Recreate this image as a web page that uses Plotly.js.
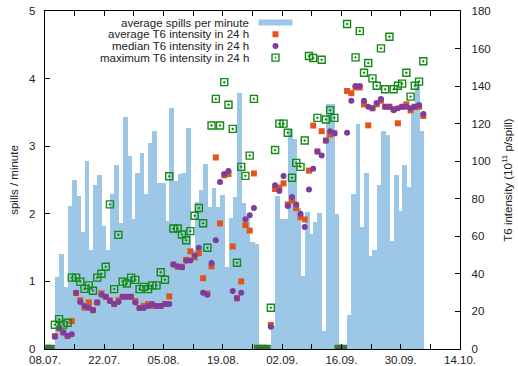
<!DOCTYPE html>
<html><head><meta charset="utf-8">
<script src="https://cdn.plot.ly/plotly-3.0.1.min.js"></script>
<style>html,body{margin:0;padding:0;background:#fff}#chart{width:518px;height:366px}</style>
</head><body><div id="chart"></div>
<script>
// day index k = -2 .. 87 ; first entry is 08.07. (zero-valued days before beam)
const firstSample = "2017-07-08 08:00";
const spillsPerMinute = [0,0,
 1.07,1.40,0.91,2.11,2.50,2.26,1.73,2.78,1.47,2.42,
 2.57,1.82,1.47,2.29,2.72,1.86,3.43,2.86,1.93,2.61,
 2.90,2.30,3.05,3.22,2.45,2.45,1.90,3.57,2.48,2.59,
 2.61,3.27,1.46,2.17,2.35,2.73,2.10,2.38,2.10,2.28,
 1.22,1.94,2.25,3.79,2.16,1.94,1.59,1.56,0,0,
 0,0.34,2.26,1.92,1.92,3.25,3.10,2.08,1.08,2.03,
 1.70,1.88,2.01,0.27,3.63,3.63,2.00,0,0,0.50,
 2.29,3.33,1.80,2.60,1.37,1.46,2.42,3.22,3.16,1.60,
 2.57,2.04,2.72,2.39,3.63,3.92,3.22,0];
const avgT6 = [0,0,
 6.9,11.0,8.7,6.9,14.8,29.8,26.0,22.0,24.8,20.7,
 24.8,29.7,27.8,25.9,23.9,26.0,27.8,27.8,27.8,25.5,
 21.9,22.9,23.9,22.9,22.9,22.9,23.9,28.0,45.0,43.8,
 43.8,47.5,52.0,48.8,51.0,37.7,29.5,44.0,102.0,66.9,
 92.5,93.2,54.6,27.0,36.0,66.0,63.1,93.5,0,0,
 0,12.8,85.2,86.0,88.2,77.0,79.1,75.0,70.2,69.0,
 95.0,119.0,105.2,116.0,111.0,114.2,114.9,0,0,137.4,
 136.2,139.3,139.3,130.3,119.1,128.2,130.3,132.2,129.0,129.0,
 127.8,120.2,129.0,130.3,127.1,129.0,129.0,124.1];
const medianT6 = [0,0,
 6.5,11.0,8.9,6.9,7.9,30.0,25.0,22.9,22.0,20.7,
 24.8,28.9,27.8,25.5,24.0,25.0,27.8,27.8,27.8,24.8,
 21.9,21.9,22.9,23.9,22.9,22.9,23.9,23.9,45.0,43.9,
 43.5,47.0,47.1,49.8,53.9,30.0,28.9,45.8,57.9,88.9,
 93.2,94.8,30.9,27.0,29.9,69.1,71.2,75.1,0,0,
 0,11.9,87.2,84.1,92.1,76.1,81.0,77.0,72.0,65.0,
 85.0,96.0,105.2,103.0,111.0,116.0,114.9,0,0,115.2,
 132.2,140.0,140.0,132.2,129.0,128.2,131.0,133.1,129.0,129.0,
 127.1,128.2,129.0,129.0,128.2,129.0,129.9,125.1];
const maxT6 = [0,0,
 12.9,15.9,13.0,14.0,38.0,38.0,35.9,32.0,33.9,31.0,
 38.0,40.1,43.8,77.0,31.9,60.8,35.9,34.9,38.0,36.8,
 31.9,33.1,31.9,33.9,33.9,40.9,36.9,92.0,64.2,64.2,
 61.0,57.9,62.8,71.0,75.1,67.0,53.9,119.0,133.2,119.0,
 142.1,130.1,117.2,45.9,97.0,92.2,103.0,133.2,0,0,
 0,22.0,106.0,120.0,120.0,115.2,91.2,99.1,97.0,111.0,
 156.0,155.0,123.1,154.0,122.2,127.2,123.1,0,0,173.1,
 190.0,155.3,169.3,147.1,152.3,144.1,140.2,160.1,138.3,166.3,
 138.3,140.2,141.3,147.1,134.4,140.2,142.4,153.2];
const labelDates = ["2017-07-08","2017-07-22","2017-08-05","2017-08-19","2017-09-02","2017-09-16","2017-09-30","2017-10-14"];
const tickLabels = ["08.07.","22.07.","05.08.","19.08.","02.09.","16.09.","30.09.","14.10."];
const legendNames = ["average spills per minute","average T6 intensity in 24 h","median T6 intensity in 24 h","maximum T6 intensity in 24 h"];

const DAY = 86400000;
function pad(n){return (n<10?"0":"")+n;}
function fmt(ms){const d=new Date(ms);return d.getUTCFullYear()+"-"+pad(d.getUTCMonth()+1)+"-"+pad(d.getUTCDate())+" "+pad(d.getUTCHours())+":"+pad(d.getUTCMinutes());}
const t0 = Date.parse(firstSample.replace(" ","T")+":00Z");
const xs = spillsPerMinute.map((_,i)=>fmt(t0+i*DAY));

const C_BAR="#9dc7e7", C_AVG="#e0551c", C_MED="#7d3c9e", C_MAX="#138a13";
const traces = [
 {type:"bar", x:xs, y:spillsPerMinute, width:spillsPerMinute.map(()=>DAY*1.15), offset:0,
  marker:{color:C_BAR,line:{width:0}}, yaxis:"y", name:legendNames[0], hoverinfo:"skip"},
 {type:"scatter", mode:"markers", x:xs, y:avgT6, yaxis:"y2", name:legendNames[1],
  marker:{symbol:"square", size:6, color:C_AVG}},
 {type:"scatter", mode:"markers", x:xs, y:medianT6, yaxis:"y2", name:legendNames[2],
  marker:{symbol:"circle", size:6, color:C_MED}},
 {type:"scatter", mode:"markers", x:xs, y:maxT6, yaxis:"y2", name:legendNames[3],
  marker:{symbol:"square-open-dot", size:7, color:C_MAX, line:{width:1.4, color:C_MAX}}}
];

const F = {family:"Liberation Sans, Arial, sans-serif", size:11.5, color:"#222"};
const legY = [0.9657, 0.9312, 0.8967, 0.8621];
const annotations = legendNames.map((t,i)=>({xref:"paper",yref:"paper",x:0.4964,y:legY[i],xanchor:"right",yanchor:"middle",text:t,showarrow:false,font:F}));
const lx = 0.5554; // sample centre
const shapes = [
 {type:"rect",xref:"paper",yref:"paper",xsizemode:"pixel",ysizemode:"pixel",xanchor:lx,yanchor:legY[0],x0:-17,x1:17,y0:-3,y1:3,fillcolor:C_BAR,line:{width:0}},
 {type:"rect",xref:"paper",yref:"paper",xsizemode:"pixel",ysizemode:"pixel",xanchor:lx,yanchor:legY[1],x0:-3,x1:3,y0:-3,y1:3,fillcolor:C_AVG,line:{width:0}},
 {type:"circle",xref:"paper",yref:"paper",xsizemode:"pixel",ysizemode:"pixel",xanchor:lx,yanchor:legY[2],x0:-3,x1:3,y0:-3,y1:3,fillcolor:C_MED,line:{width:0}},
 {type:"rect",xref:"paper",yref:"paper",xsizemode:"pixel",ysizemode:"pixel",xanchor:lx,yanchor:legY[3],x0:-3.5,x1:3.5,y0:-3.5,y1:3.5,fillcolor:"rgba(0,0,0,0)",line:{width:1.4,color:C_MAX}},
 {type:"rect",xref:"paper",yref:"paper",xsizemode:"pixel",ysizemode:"pixel",xanchor:lx,yanchor:legY[3],x0:-0.8,x1:0.8,y0:-0.8,y1:0.8,fillcolor:C_MAX,line:{width:0}}
];

const layout = {
 width:518, height:366, margin:{l:45,r:58,t:11,b:17},
 paper_bgcolor:"#fff", plot_bgcolor:"#fff", font:F, showlegend:false, bargap:0,
 xaxis:{type:"date", range:["2017-07-08","2017-10-14"], tickmode:"array", tickvals:labelDates, ticktext:tickLabels,
  ticks:"inside", ticklen:5, tickcolor:"#000", showline:true, linecolor:"#000", linewidth:1.2, mirror:"ticks",
  minor:{tickmode:"linear", tick0:"2017-07-08", dtick:7*DAY, ticks:"inside", ticklen:5, tickcolor:"#000"},
  showgrid:false, zeroline:false, tickfont:F},
 yaxis:{range:[0,5], dtick:1, ticks:"inside", ticklen:5, tickcolor:"#000", showline:true, linecolor:"#000", linewidth:1.2,
  showgrid:false, zeroline:false, tickfont:F, ticklabelstandoff:6,
  title:{text:"spills / minute", font:F, standoff:8}},
 yaxis2:{range:[0,180], dtick:20, overlaying:"y", side:"right", ticks:"inside", ticklen:5, tickcolor:"#000", showline:true,
  linecolor:"#000", linewidth:1.2, showgrid:false, zeroline:false, tickfont:F, ticklabelstandoff:8,
  title:{text:"T6 intensity (10<sup>11</sup> p/spill)", font:F, standoff:14}},
 annotations:annotations, shapes:shapes
};
Plotly.newPlot("chart", traces, layout, {staticPlot:true, displayModeBar:false});
</script></body></html>
